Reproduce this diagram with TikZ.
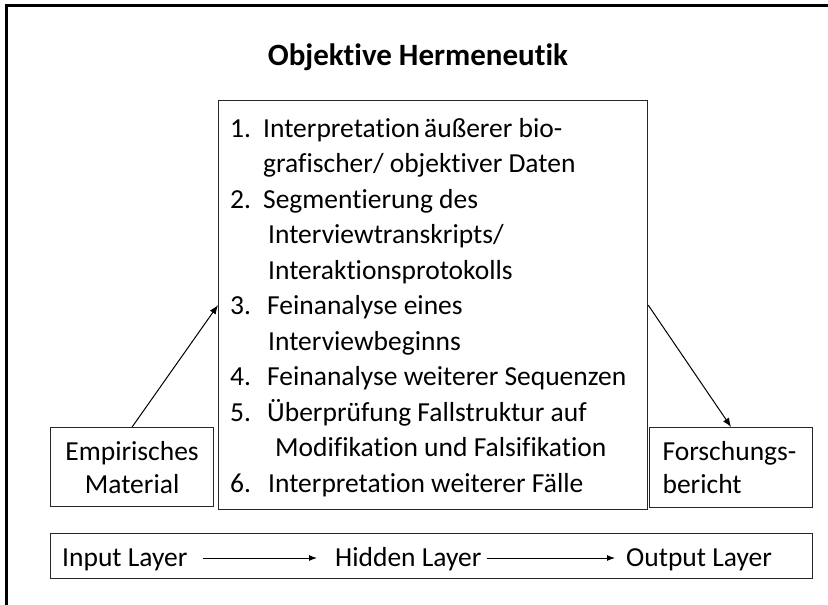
\documentclass[tikz,border=0pt]{standalone}
\usepackage{fontspec}
\setmainfont{Carlito}[Ligatures=NoCommon]
\usetikzlibrary{arrows.meta}

\begin{document}
\begin{tikzpicture}[x=1pt, y=-1pt,
    box/.style={draw=black!85, line width=1.2pt, inner sep=0pt},
    txt/.style={font=\fontsize{27.5}{33}\selectfont},
    arr/.style={-{Latex[length=9pt,width=7pt]}, line width=1pt}]
  \useasboundingbox (0,0) rectangle (828,605);
  % outer frame (open at right and bottom)
  \draw[line width=3pt] (6.5,605) -- (6.5,5.5) -- (828,5.5);

  \node (title) [anchor=base, font=\bfseries\fontsize{31}{36}\selectfont] at (418,65) {Objektive Hermeneutik};

  % main box with the steps
  \node (steps) [box, anchor=north west, minimum width=429pt, minimum height=409pt] at (218,100) {};
  \node (list) [anchor=north west, inner sep=0pt, align=left, font=\fontsize{27.5}{35.5}\selectfont] at (230,112) {%
    \strut\makebox[33pt][l]{1.}Interpretation\hspace{-2pt} äußerer bio-\\
    \hspace*{33pt}grafischer/ objektiver Daten\\
    \makebox[33pt][l]{2.}Segmentierung des\\
    \hspace*{38pt}Interviewtranskripts/\\
    \hspace*{38pt}Interaktionsprotokolls\\
    \makebox[37pt][l]{3.}Feinanalyse eines\\
    \hspace*{38pt}Interviewbeginns\\
    \makebox[37pt][l]{4.}Feinanalyse weiterer Sequenzen\\
    \makebox[37pt][l]{5.}Überprüfung Fallstruktur auf\\
    \hspace*{45pt}Modifikation und Falsifikation\\
    \makebox[38pt][l]{6.}Interpretation weiterer Fälle};

  \node (emp) [box, txt, anchor=north west, align=center, minimum width=163pt, minimum height=79pt] at (50,427) {Empirisches\\Material};
  \node (fors) [box, txt, anchor=north west, align=left, inner xsep=13pt, text width=137pt, minimum height=80pt] at (649,427) {Forschungs-\\bericht};

  \draw[arr] (emp.north) -- (steps.west);
  \draw[arr] (steps.east) -- (fors.north);

  % layer row
  \node (layers) [box, anchor=north west, minimum width=762pt, minimum height=45pt] at (50,533) {};
  \node (inl) [txt, anchor=base west, inner sep=0pt, text height=18pt, text depth=2pt] at (62,566) {Input Layer};
  \node (hid) [txt, anchor=base west, inner sep=0pt, text height=18pt, text depth=2pt] at (335,566) {Hidden Layer};
  \node (outl) [txt, anchor=base west, inner sep=0pt, text height=18pt, text depth=2pt] at (626,566) {Output Layer};
  \draw[arr, -{Latex[length=8pt,width=6pt]}] ([xshift=15pt]inl.east) -- ([xshift=-18pt]hid.west);
  \draw[arr, -{Latex[length=8pt,width=6pt]}] ([xshift=5pt]hid.east) -- ([xshift=-11pt]outl.west);
\end{tikzpicture}
\end{document}
